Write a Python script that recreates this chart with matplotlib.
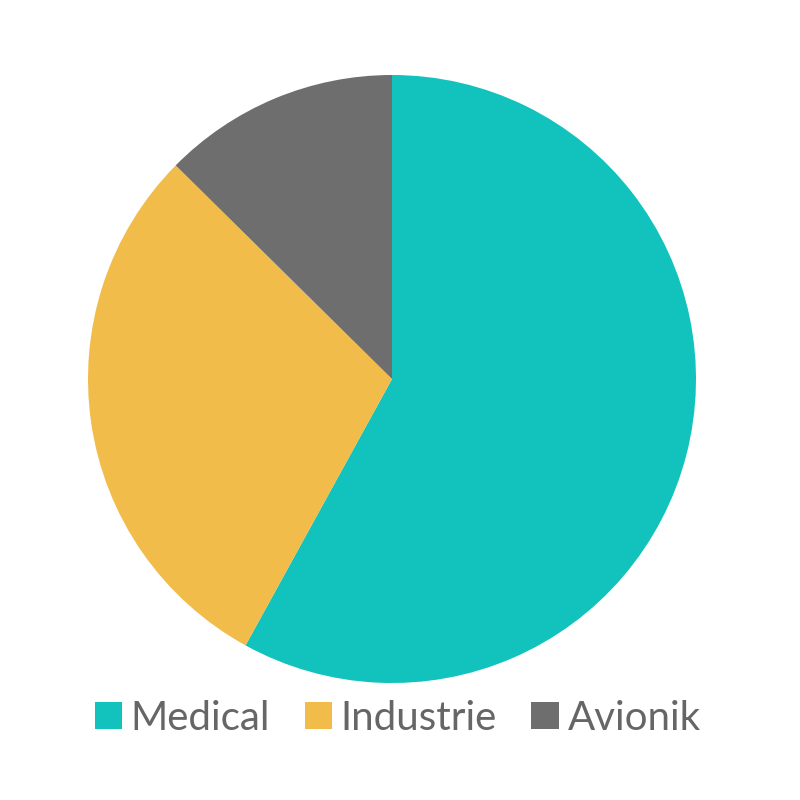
import matplotlib.pyplot as plt
from matplotlib.patches import Patch

labels = ['Medical', 'Industrie', 'Avionik']
values = [58, 29.4, 12.6]
colors = ['#12C2BC', '#F2BC4B', '#6E6E6E']

plt.rcParams['font.family'] = ['Lato', 'DejaVu Sans']

fig = plt.figure(figsize=(8, 8), dpi=100)
ax = fig.add_axes([0.11, 0.14625, 0.76, 0.76])
ax.pie(values, colors=colors, startangle=90, counterclock=False,
       wedgeprops=dict(linewidth=0))
ax.set_xlim(-1, 1)
ax.set_ylim(-1, 1)
ax.set_aspect('equal')
ax.axis('off')

handles = [Patch(facecolor=c, edgecolor='none') for c in colors]
fig.legend(handles, labels, loc='center', bbox_to_anchor=(0.497, 0.1025), ncol=3,
           frameon=False, handlelength=0.68, handleheight=0.68,
           handletextpad=0.22, columnspacing=0.85, labelcolor='#666666',
           prop=dict(family='Lato', weight='normal', size=29))

fig.savefig('out.png', dpi=100, facecolor='white')
